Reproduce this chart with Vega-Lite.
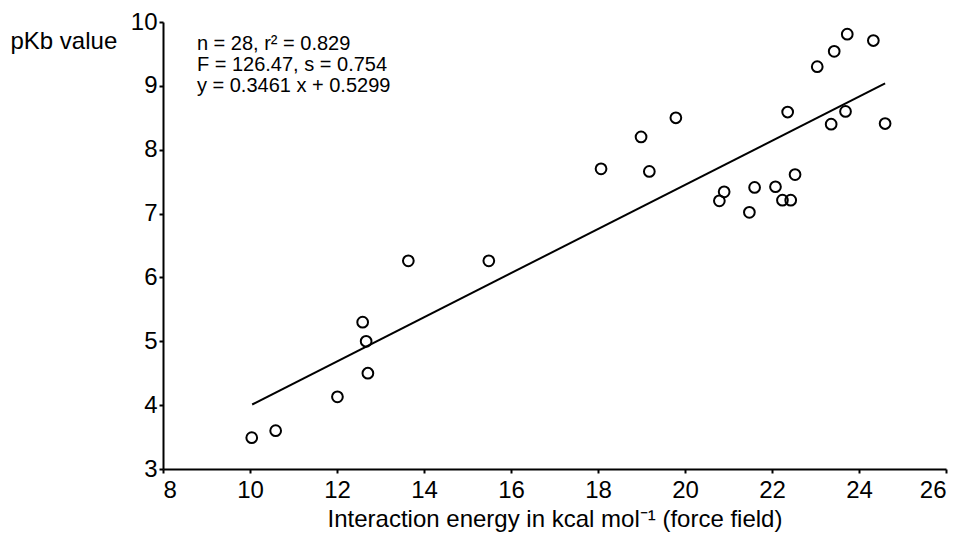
{
  "$schema": "https://vega.github.io/schema/vega-lite/v6.json",
  "width": 783,
  "height": 447,
  "autosize": {"type": "none"},
  "padding": {"left": 163, "top": 22, "right": 19, "bottom": 71},
  "background": "white",
  "config": {
    "view": {"stroke": null},
    "font": "Liberation Sans",
    "axis": {
      "domainColor": "black",
      "domainWidth": 2,
      "tickColor": "black",
      "tickWidth": 2,
      "tickSize": 4,
      "grid": false,
      "labelColor": "black",
      "labelFont": "Liberation Sans",
      "labelFontSize": 24,
      "titleColor": "black",
      "titleFont": "Liberation Sans",
      "titleFontWeight": "normal",
      "titleFontSize": 24
    }
  },
  "datasets": {
    "points": [
      {"energy": 10.04, "pkb": 3.49},
      {"energy": 10.59, "pkb": 3.60},
      {"energy": 12.01, "pkb": 4.13},
      {"energy": 12.59, "pkb": 5.30},
      {"energy": 12.67, "pkb": 5.00},
      {"energy": 12.71, "pkb": 4.50},
      {"energy": 13.64, "pkb": 6.26},
      {"energy": 15.49, "pkb": 6.26},
      {"energy": 18.07, "pkb": 7.70},
      {"energy": 18.99, "pkb": 8.20},
      {"energy": 19.18, "pkb": 7.66},
      {"energy": 19.79, "pkb": 8.50},
      {"energy": 20.79, "pkb": 7.20},
      {"energy": 20.90, "pkb": 7.34},
      {"energy": 21.48, "pkb": 7.02},
      {"energy": 21.60, "pkb": 7.41},
      {"energy": 22.08, "pkb": 7.42},
      {"energy": 22.24, "pkb": 7.21},
      {"energy": 22.43, "pkb": 7.21},
      {"energy": 22.53, "pkb": 7.61},
      {"energy": 22.36, "pkb": 8.59},
      {"energy": 23.04, "pkb": 9.30},
      {"energy": 23.43, "pkb": 9.54},
      {"energy": 23.73, "pkb": 9.81},
      {"energy": 24.33, "pkb": 9.71},
      {"energy": 23.69, "pkb": 8.60},
      {"energy": 23.36, "pkb": 8.40},
      {"energy": 24.60, "pkb": 8.41}
    ],
    "fit": [
      {"energy": 10.05, "pkb": 4.01},
      {"energy": 24.6, "pkb": 9.04}
    ],
    "notes": [
      {"energy": 8.78, "pkb": 9.661, "text": "n = 28, r² = 0.829"},
      {"energy": 8.78, "pkb": 9.332, "text": "F = 126.47, s = 0.754"},
      {"energy": 8.78, "pkb": 9.003, "text": "y = 0.3461 x + 0.5299"}
    ]
  },
  "encoding": {
    "x": {
      "field": "energy",
      "type": "quantitative",
      "scale": {"domain": [8, 26], "nice": false, "zero": false},
      "axis": {
        "values": [8, 10, 12, 14, 16, 18, 20, 22, 24, 26],
        "labelPadding": 5,
        "title": "Interaction energy in kcal mol⁻¹ (force field)",
        "titlePadding": 5
      }
    },
    "y": {
      "field": "pkb",
      "type": "quantitative",
      "scale": {"domain": [3, 10], "nice": false, "zero": false},
      "axis": {
        "values": [3, 4, 5, 6, 7, 8, 9, 10],
        "labelPadding": 2,
        "title": "pKb value",
        "titleAngle": 0,
        "titleAlign": "left",
        "titleBaseline": "middle",
        "titleX": -153,
        "titleY": 19
      }
    }
  },
  "layer": [
    {
      "data": {"name": "fit"},
      "mark": {"type": "line", "color": "black", "strokeWidth": 2}
    },
    {
      "data": {"name": "points"},
      "mark": {"type": "point", "shape": "circle", "filled": false, "color": "black", "strokeWidth": 2, "size": 115, "opacity": 1}
    },
    {
      "data": {"name": "notes"},
      "mark": {"type": "text", "align": "left", "baseline": "middle", "fontSize": 20, "color": "black", "font": "Liberation Sans"},
      "encoding": {"text": {"field": "text"}}
    }
  ]
}
